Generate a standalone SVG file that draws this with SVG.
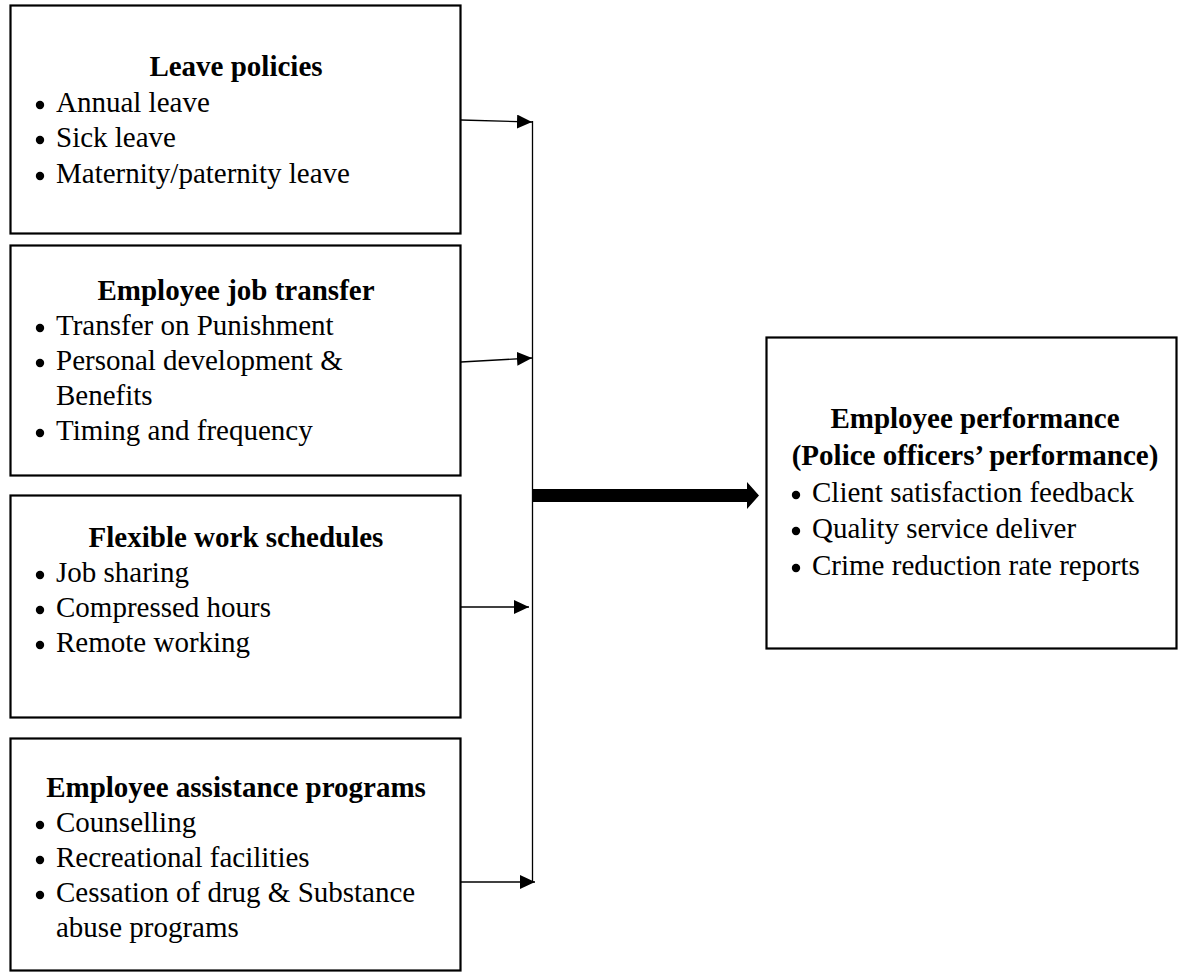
<svg xmlns="http://www.w3.org/2000/svg" xmlns:xlink="http://www.w3.org/1999/xlink" width="1178" height="973" viewBox="0 0 1178 973">
<style>
.box{fill:#fff;stroke:#000;stroke-width:2.2}
.t{font-family:"Liberation Serif","Times New Roman",serif;font-size:29px;fill:#000}
.h{font-weight:bold;text-anchor:middle}
.ln{stroke:#000;stroke-width:1.3;fill:none}
.bu{fill:#000}
</style>
<defs>
<marker id="ah" viewBox="0 0 15 14" refX="15" refY="7" markerWidth="15" markerHeight="14" markerUnits="userSpaceOnUse" orient="auto">
<path d="M0,0 L15,7 L0,14 z" fill="#000"/>
</marker>
<circle id="bul" class="bu" cx="0" cy="0" r="4.2"/>
</defs>
<rect width="1178" height="973" fill="#fff"/>
<g id="connectors">
<line class="ln" x1="532.5" y1="121" x2="532.5" y2="883"/>
<line class="ln" x1="461" y1="120" x2="532" y2="122" marker-end="url(#ah)"/>
<line class="ln" x1="461" y1="362" x2="532" y2="358" marker-end="url(#ah)"/>
<line class="ln" x1="461" y1="607" x2="529" y2="607" marker-end="url(#ah)"/>
<line class="ln" x1="461" y1="882" x2="535" y2="882" marker-end="url(#ah)"/>
<path d="M533,489 L747,489 L747,482 L759,495.5 L747,509 L747,502 L533,502 z" fill="#000"/>
</g>
<g id="leave">
<rect class="box" x="10.5" y="5.5" width="450" height="228"/>
<text class="t h" x="236" y="76">Leave policies</text>
<use xlink:href="#bul" x="40" y="105"/><text class="t" x="56" y="112">Annual leave</text>
<use xlink:href="#bul" x="40" y="140"/><text class="t" x="56" y="147">Sick leave</text>
<use xlink:href="#bul" x="40" y="176"/><text class="t" x="56" y="183">Maternity/paternity leave</text>
</g>
<g id="transfer">
<rect class="box" x="10.5" y="245.5" width="450" height="230"/>
<text class="t h" x="236" y="300">Employee job transfer</text>
<use xlink:href="#bul" x="40" y="328"/><text class="t" x="56" y="335">Transfer on Punishment</text>
<use xlink:href="#bul" x="40" y="363"/><text class="t" x="56" y="370">Personal development &amp;</text>
<text class="t" x="56" y="405">Benefits</text>
<use xlink:href="#bul" x="40" y="433"/><text class="t" x="56" y="440">Timing and frequency</text>
</g>
<g id="flexible">
<rect class="box" x="10.5" y="495.5" width="450" height="222"/>
<text class="t h" x="236" y="547">Flexible work schedules</text>
<use xlink:href="#bul" x="40" y="575"/><text class="t" x="56" y="582">Job sharing</text>
<use xlink:href="#bul" x="40" y="610"/><text class="t" x="56" y="617">Compressed hours</text>
<use xlink:href="#bul" x="40" y="645"/><text class="t" x="56" y="652">Remote working</text>
</g>
<g id="assistance">
<rect class="box" x="10.5" y="738.5" width="450" height="232"/>
<text class="t h" x="236" y="797">Employee assistance programs</text>
<use xlink:href="#bul" x="40" y="825"/><text class="t" x="56" y="832">Counselling</text>
<use xlink:href="#bul" x="40" y="860"/><text class="t" x="56" y="867">Recreational facilities</text>
<use xlink:href="#bul" x="40" y="895"/><text class="t" x="56" y="902">Cessation of drug &amp; Substance</text>
<text class="t" x="56" y="937">abuse programs</text>
</g>
<g id="performance">
<rect class="box" x="766.5" y="337.5" width="410" height="311"/>
<text class="t h" x="975" y="428">Employee performance</text>
<text class="t h" x="975" y="465">(Police officers’ performance)</text>
<use xlink:href="#bul" x="796" y="495"/><text class="t" x="812" y="502">Client satisfaction feedback</text>
<use xlink:href="#bul" x="796" y="531"/><text class="t" x="812" y="538">Quality service deliver</text>
<use xlink:href="#bul" x="796" y="568"/><text class="t" x="812" y="575">Crime reduction rate reports</text>
</g>
</svg>
